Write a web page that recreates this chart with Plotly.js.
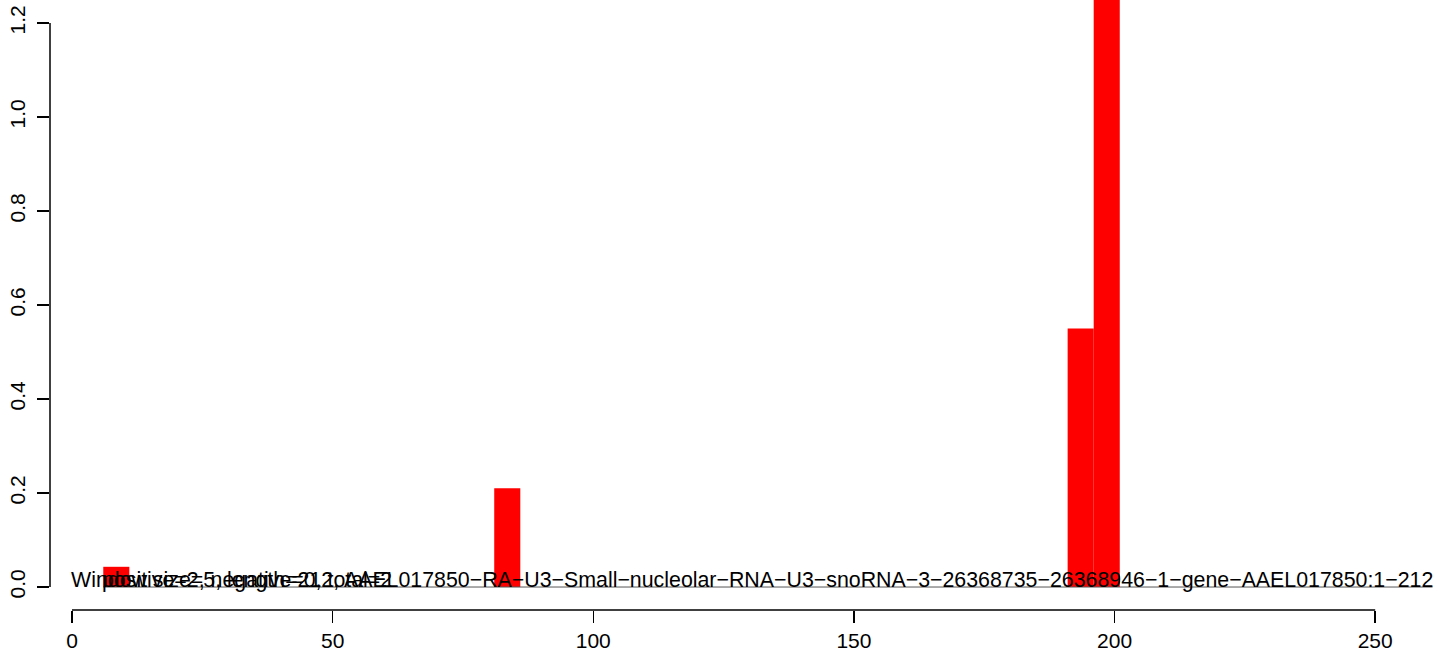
<!DOCTYPE html>
<html>
<head>
<meta charset="utf-8">
<script src="https://cdn.plot.ly/plotly-3.0.1.min.js"></script>
<style>html,body{margin:0;padding:0;background:#fff;}#chart{width:1444px;height:662px;}</style>
</head>
<body>
<div id="chart"></div>
<script>
// Window start positions (bin width 5) and heights of the non-empty windows
const binStarts = [6, 81, 191, 196];
const binValues = [0.043, 0.21, 0.55, 1.30];
const binWidth = 5;
// zero baseline drawn across all windows
const baselineStart = 6;
const baselineEnd = 261;

const xTicks = [0, 50, 100, 150, 200, 250];
const yTicks = [0.0, 0.2, 0.4, 0.6, 0.8, 1.0, 1.2];

const label1 = "Window size=5, length=212, AAEL017850\u2212RA\u2212U3\u2212Small\u2212nucleolar\u2212RNA\u2212U3\u2212snoRNA\u22123\u221226368735\u221226368946\u22121\u2212gene\u2212AAEL017850:1\u2212212";
const label2 = "positive=2, negative=0, total=2";
const label1X = -0.4, label2X = 5.6, labelY = 0.015;

const FONT = "Liberation Sans, Arial, Helvetica, sans-serif";
const FS = 21;
const LFS = 21.35;

const trace = {
  type: "bar",
  x: binStarts.map(s => s + binWidth / 2),
  y: binValues,
  width: binWidth,
  marker: {color: "#ff0000", line: {width: 0}},
  hoverinfo: "skip"
};

const layout = {
  width: 1444, height: 662,
  margin: {l: 50, r: 0, t: 0, b: 52, pad: 0},
  paper_bgcolor: "#ffffff", plot_bgcolor: "#ffffff",
  showlegend: false,
  font: {family: FONT, size: FS, color: "#000"},
  xaxis: {
    range: [-4.22, 263.2],
    tickvals: xTicks, ticktext: xTicks.map(String),
    ticks: "outside", ticklen: 12, tickwidth: 1.5, tickcolor: "#000",
    showgrid: false, zeroline: false, showline: false,
    tickfont: {family: FONT, size: FS, color: "#000"}
  },
  yaxis: {
    range: [-0.0489, 1.2489],
    tickvals: yTicks, ticktext: yTicks.map(v => v.toFixed(1)),
    ticks: "outside", ticklen: 12, tickwidth: 1.5, tickcolor: "#000",
    tickangle: -90, ticklabelstandoff: 4,
    showgrid: false, zeroline: false, showline: false,
    tickfont: {family: FONT, size: FS, color: "#000"}
  },
  shapes: [
    {type: "line", xref: "x", yref: "paper", x0: xTicks[0], x1: xTicks[xTicks.length-1], y0: 0, y1: 0, line: {color: "#000", width: 1.5}},
    {type: "line", xref: "paper", yref: "y", x0: 0, x1: 0, y0: yTicks[0], y1: yTicks[yTicks.length-1], line: {color: "#000", width: 1.5}},
    {type: "line", xref: "x", yref: "y", x0: baselineStart, x1: baselineEnd, y0: 0, y1: 0, line: {color: "#555", width: 1}, layer: "above"}
  ],
  annotations: [
    {x: label1X, y: labelY, xref: "x", yref: "y", xanchor: "left", yanchor: "middle", borderpad: 0, showarrow: false, text: label1, font: {family: FONT, size: LFS, color: "#000"}},
    {x: label2X, y: labelY, xref: "x", yref: "y", xanchor: "left", yanchor: "middle", borderpad: 0, showarrow: false, text: label2, font: {family: FONT, size: LFS, color: "#000"}}
  ]
};

Plotly.newPlot("chart", [trace], layout, {displayModeBar: false, staticPlot: true});
</script>
</body>
</html>
